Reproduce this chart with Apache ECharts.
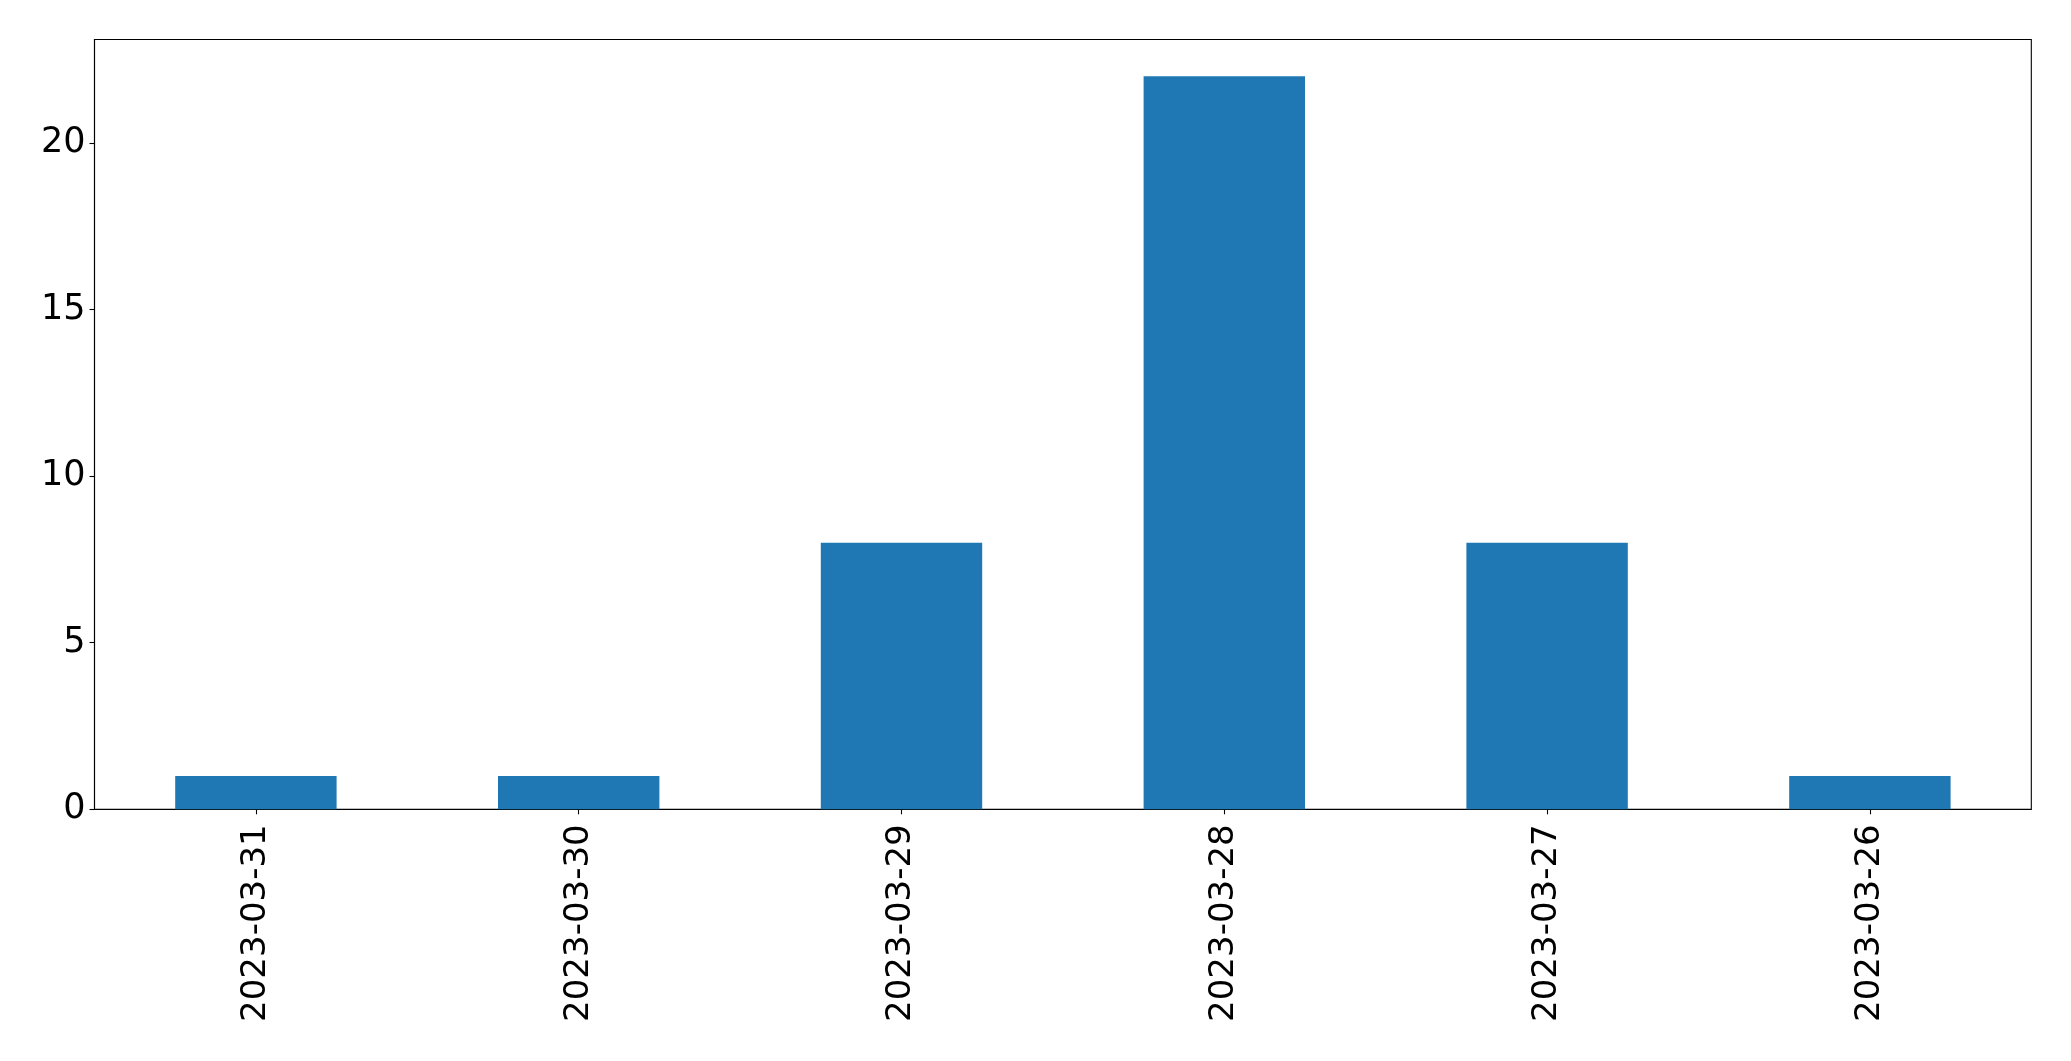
<!DOCTYPE html>
<html>
<head>
<meta charset="utf-8">
<script src="https://cdn.jsdelivr.net/npm/echarts@6/dist/echarts.min.js"></script>
<style>html,body{margin:0;padding:0;background:#fff}#c{width:2071px;height:1061px}</style>
</head>
<body>
<div id="c"></div>
<script>
const categories = ['2023-03-31','2023-03-30','2023-03-29','2023-03-28','2023-03-27','2023-03-26'];
const values = [1, 1, 8, 22, 8, 1];
const yTicks = [0, 5, 10, 15, 20];

const chart = echarts.init(document.getElementById('c'), null, {renderer: 'canvas'});
chart.setOption({
  animation: false,
  grid: {left: 94.5, top: 39.5, right: 39.7, bottom: 251.7, show: true, borderColor: '#000', borderWidth: 1.1, backgroundColor: 'transparent'},
  xAxis: {
    type: 'category',
    data: categories,
    axisLine: {show: true, lineStyle: {color: '#000', width: 1.1}},
    axisTick: {show: true, alignWithLabel: true, length: 5, lineStyle: {color: '#000', width: 1.1}},
    axisLabel: {rotate: 90, margin: 15, fontSize: 34, color: '#000', fontFamily: 'DejaVu Sans', interval: 0},
    splitLine: {show: false}
  },
  yAxis: {
    type: 'value',
    min: 0, max: 23.1, interval: 5,
    axisLine: {show: true, lineStyle: {color: '#000', width: 1.1}},
    axisTick: {show: true, length: 5, lineStyle: {color: '#000', width: 1.1}, customValues: yTicks},
    axisLabel: {margin: 9, fontSize: 35, color: '#000', fontFamily: 'DejaVu Sans', customValues: yTicks},
    splitLine: {show: false}
  },
  series: [{
    type: 'bar',
    data: values,
    barWidth: '50%',
    itemStyle: {color: '#1f77b4'}
  }]
});
</script>
</body>
</html>
